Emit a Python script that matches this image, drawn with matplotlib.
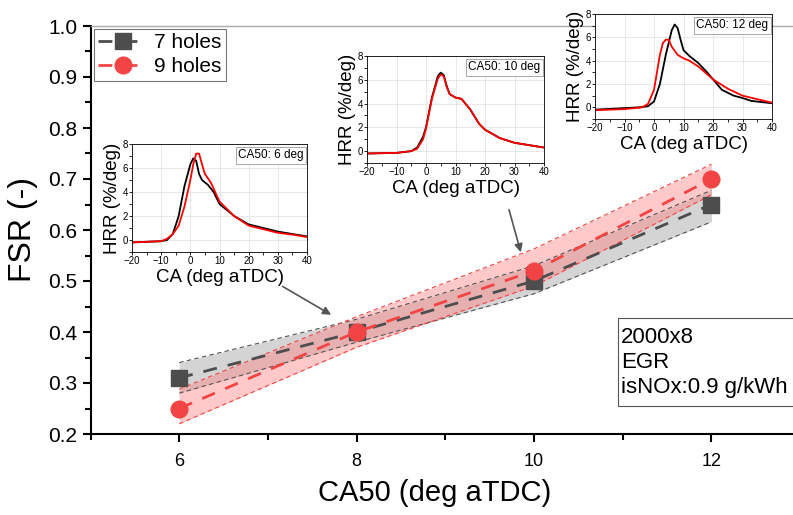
import numpy as np
import matplotlib
matplotlib.use("Agg")
import matplotlib.pyplot as plt
from matplotlib.patches import Rectangle
from matplotlib.ticker import MultipleLocator

plt.rcParams["font.family"] = ["Liberation Sans", "DejaVu Sans"]

# main chart data
ca50 = [6, 8, 10, 12]
fsr_7 = [0.31, 0.40, 0.50, 0.65]
fsr_9 = [0.25, 0.40, 0.52, 0.70]
band_7_lo = [0.28, 0.38, 0.475, 0.616]
band_7_hi = [0.34, 0.425, 0.53, 0.678]
band_9_lo = [0.22, 0.37, 0.49, 0.669]
band_9_hi = [0.288, 0.43, 0.563, 0.729]

# heat release rate insets
ca_6_k = [-20, -10, -8, -6, -4, -2, 0, 1, 2, 3, 4, 6, 8, 10, 15, 20, 25, 30, 35, 40]
hrr_6_k = [-0.2, -0.1, 0.0, 0.5, 2.0, 4.5, 6.3, 6.8, 6.6, 5.5, 5.0, 4.6, 4.0, 3.0, 2.0, 1.3, 1.0, 0.7, 0.5, 0.3]
ca_6_r = [-20, -15, -10, -8, -6, -4, -2, 0, 1, 2, 3, 4, 5, 7, 10, 15, 20, 25, 30, 35, 40]
hrr_6_r = [-0.2, -0.15, -0.1, 0.1, 0.5, 1.2, 2.8, 5.0, 6.3, 7.2, 7.2, 6.3, 5.5, 4.8, 3.2, 2.0, 1.2, 0.9, 0.6, 0.45, 0.25]

ca_10 = [-20, -10, -5, -3, -1, 0, 2, 4, 5, 6, 7, 8, 10, 12, 15, 18, 20, 25, 30, 35, 40]
hrr_10_k = [-0.2, -0.15, 0.0, 0.3, 1.2, 2.0, 4.5, 6.3, 6.6, 6.4, 5.5, 4.8, 4.5, 4.4, 3.5, 2.3, 1.8, 1.1, 0.7, 0.5, 0.3]
hrr_10_r = [-0.2, -0.15, 0.0, 0.2, 1.0, 1.9, 4.4, 6.1, 6.45, 6.3, 5.4, 4.8, 4.5, 4.4, 3.5, 2.3, 1.8, 1.1, 0.7, 0.5, 0.3]

ca_12_k = [-20, -5, -2, 0, 2, 4, 6, 7, 8, 9, 10, 12, 15, 18, 20, 23, 27, 30, 33, 40]
hrr_12_k = [-0.2, 0.0, 0.1, 0.5, 2.0, 4.5, 6.6, 7.1, 6.8, 5.8, 4.9, 4.4, 3.8, 3.0, 2.4, 1.5, 1.0, 0.8, 0.55, 0.35]
ca_12_r = [-20, -10, -4, -2, 0, 2, 3, 4, 5, 6, 8, 10, 12, 15, 20, 25, 30, 35, 40]
hrr_12_r = [-0.25, -0.15, 0.0, 0.3, 1.5, 4.5, 5.5, 5.8, 5.8, 5.2, 4.5, 4.2, 4.0, 3.5, 2.4, 1.6, 1.0, 0.7, 0.4]

GRAY = "#4d4d4d"
RED = "#f24444"

fig = plt.figure(figsize=(7.93, 5.15), dpi=100)
ax = fig.add_axes([90.5 / 793, 81 / 515, 1 - 90.5 / 793, 408 / 515])

ax.fill_between(ca50, band_7_lo, band_7_hi, color="#b8b8b8", alpha=0.6, lw=0)
ax.fill_between(ca50, band_9_lo, band_9_hi, color="#ff8080", alpha=0.42, lw=0)
for lo, hi, c in [(band_7_lo, band_7_hi, "#555555"), (band_9_lo, band_9_hi, RED)]:
    ax.plot(ca50, lo, color=c, lw=0.8, ls=(0, (4, 3)))
    ax.plot(ca50, hi, color=c, lw=0.8, ls=(0, (4, 3)))

ax.plot(ca50, fsr_7, color=GRAY, lw=2, ls=(0, (5, 4)), marker="s", ms=11,
        label="7 holes")
ax.plot(ca50, fsr_9, color=RED, lw=2, ls=(0, (5, 4)), marker="o", ms=12,
        label="9 holes")

ax.set_xlim(5.0, 12.92)
ax.set_ylim(0.2, 1.0)
ax.xaxis.set_major_locator(MultipleLocator(2))
ax.xaxis.set_minor_locator(MultipleLocator(1))
ax.yaxis.set_major_locator(MultipleLocator(0.1))
ax.yaxis.set_minor_locator(MultipleLocator(0.05))
ax.yaxis.set_major_formatter(plt.FormatStrFormatter("%.1f"))
ax.tick_params(axis="both", which="major", direction="out", length=6, width=1.5)
ax.tick_params(axis="both", which="minor", direction="out", length=4, width=1.5)
ax.tick_params(axis="x", labelsize=13, pad=8)
ax.tick_params(axis="y", labelsize=15)
for s in ["left", "bottom"]:
    ax.spines[s].set_linewidth(1.5)
ax.spines["right"].set_visible(False)
ax.spines["top"].set_color("#aaaaaa")
ax.spines["top"].set_linewidth(1)

ax.set_xlabel("CA50 (deg aTDC)", fontsize=21)
ax.set_ylabel("FSR (-)", fontsize=23)
ax.xaxis.set_label_coords(0.49, -0.11)
ax.yaxis.set_label_coords(-0.075, 0.5)

leg = ax.legend(loc="upper left", fontsize=15, frameon=True, fancybox=False,
                edgecolor="#555555", handlelength=2.4, borderaxespad=0.15,
                borderpad=0.2, handletextpad=0.3, labelspacing=0.25)
leg.get_frame().set_linewidth(0.8)

# condition box, running off the right edge like the original
ax.add_patch(Rectangle((0.751, 0.0686), 0.3, 0.2157, transform=ax.transAxes,
                       fc="white", ec="#555555", lw=0.8, zorder=5))
ax.text(0.755, 0.176, "2000x8\nEGR\nisNOx:0.9 g/kWh", transform=ax.transAxes,
        fontsize=16, va="center", ha="left", linespacing=1.25, zorder=6)

ax.annotate("", xy=(7.74, 0.431), xytext=(7.14, 0.492),
            arrowprops=dict(arrowstyle="-|>", color="#555555", lw=1.2, mutation_scale=12))
ax.annotate("", xy=(9.86, 0.551), xytext=(9.71, 0.645),
            arrowprops=dict(arrowstyle="-|>", color="#555555", lw=1.2, mutation_scale=12))


def add_inset(rect, ca_k, hrr_k, ca_r, hrr_r, tag):
    x0, y0, x1, y1 = rect
    ia = fig.add_axes([x0 / 793, 1 - y1 / 515, (x1 - x0) / 793, (y1 - y0) / 515])
    ia.grid(True, color="#e4e4e4", lw=0.6)
    ia.plot(ca_k, hrr_k, color="black", lw=1.3)
    ia.plot(ca_r, hrr_r, color="#ff0000", lw=1.3)
    ia.set_xlim(-20, 40)
    ia.set_ylim(-1, 8)
    ia.set_xticks([-20, -10, 0, 10, 20, 30, 40])
    ia.set_yticks([0, 2, 4, 6, 8])
    ia.xaxis.set_minor_locator(MultipleLocator(5))
    ia.yaxis.set_minor_locator(MultipleLocator(1))
    ia.tick_params(which="both", labelsize=7, length=2, width=0.6, pad=1)
    for s in ia.spines.values():
        s.set_linewidth(0.6)
    ia.set_xlabel("CA (deg aTDC)", fontsize=13.5, labelpad=2)
    ia.set_ylabel("HRR (%/deg)", fontsize=13.5, labelpad=1)
    ia.text(0.98, 0.95, tag, transform=ia.transAxes, ha="right", va="top",
            fontsize=8.5,
            bbox=dict(boxstyle="square,pad=0.2", fc="white", ec="#999999", lw=0.6))
    return ia


add_inset((132, 144, 307, 252), ca_6_k, hrr_6_k, ca_6_r, hrr_6_r, "CA50: 6 deg")
add_inset((367, 56, 544, 163), ca_10, hrr_10_k, ca_10, hrr_10_r, "CA50: 10 deg")
add_inset((595, 14, 772, 119), ca_12_k, hrr_12_k, ca_12_r, hrr_12_r, "CA50: 12 deg")

fig.savefig("out.png", dpi=100)
